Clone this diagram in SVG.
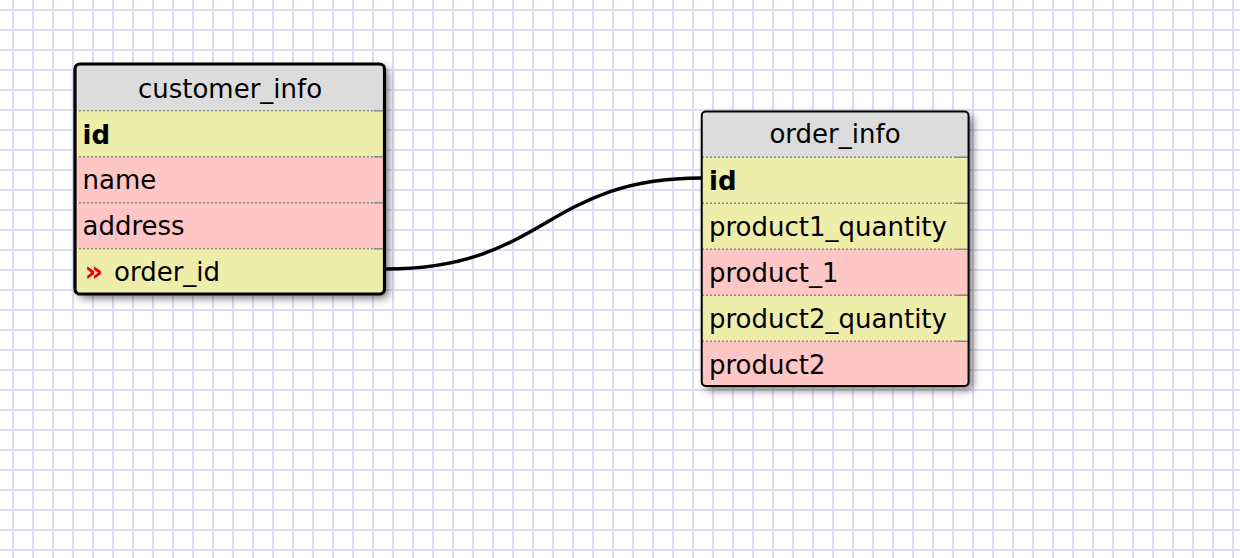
<svg xmlns="http://www.w3.org/2000/svg" width="1240" height="558" viewBox="0 0 1240 558">
<defs>
<pattern id="grid" x="13" y="10" width="20" height="20" patternUnits="userSpaceOnUse">
<rect x="-1" y="0" width="2" height="20" fill="#dcdcf5"/>
<rect x="19" y="0" width="2" height="20" fill="#dcdcf5"/>
<rect x="0" y="-1" width="20" height="2" fill="#dcdcf5"/>
<rect x="0" y="19" width="20" height="2" fill="#dcdcf5"/>
</pattern>
<filter id="shadow" x="-10%" y="-10%" width="130%" height="130%">
<feDropShadow dx="4" dy="4" stdDeviation="4" flood-color="#000" flood-opacity="0.55"/>
</filter>
<clipPath id="clipC"><rect x="75" y="64" width="309.5" height="230" rx="5"/></clipPath>
<clipPath id="clipO"><rect x="701.75" y="111.5" width="266.8" height="274.5" rx="4"/></clipPath>
</defs>
<style>
.hdr{fill:#dcdcdc}
.yel{fill:#eeeeaa}
.pnk{fill:#ffc6c6}
.sep{stroke:#888;stroke-width:1.5;stroke-dasharray:2 2}
.sepend{stroke:#888;stroke-width:1.5}
.t{font-family:"DejaVu Sans","Verdana",sans-serif;font-size:26px;fill:#000}
.title{text-anchor:middle}
.b{font-weight:bold}
.fk{font-family:"DejaVu Sans",sans-serif;font-size:29px;font-weight:bold;fill:#ee0000}
.conn{fill:none;stroke:#000;stroke-width:3.5}
</style>
<rect x="0" y="0" width="1240" height="558" fill="#ffffff"/>
<rect x="0" y="0" width="1240" height="558" fill="url(#grid)"/>

<g id="connectors">
<path class="conn" d="M 386 269 C 545 269, 545 178, 701 178"/>
</g>

<g id="customer_info">
<rect x="75" y="64" width="309.5" height="230" rx="5" fill="#eeeeaa" filter="url(#shadow)"/>
<g clip-path="url(#clipC)">
<rect class="hdr" x="74" y="63" width="312" height="47.7"/>
<rect class="yel" x="74" y="110.7" width="312" height="46"/>
<rect class="pnk" x="74" y="156.7" width="312" height="46"/>
<rect class="pnk" x="74" y="202.7" width="312" height="46"/>
<rect class="yel" x="74" y="248.7" width="312" height="47"/>
<line class="sep" x1="75" y1="110.7" x2="374" y2="110.7"/>
<line class="sepend" x1="374" y1="110.7" x2="385" y2="110.7"/>
<line class="sep" x1="75" y1="156.7" x2="374" y2="156.7"/>
<line class="sepend" x1="374" y1="156.7" x2="385" y2="156.7"/>
<line class="sep" x1="75" y1="202.7" x2="374" y2="202.7"/>
<line class="sepend" x1="374" y1="202.7" x2="385" y2="202.7"/>
<line class="sep" x1="75" y1="248.7" x2="374" y2="248.7"/>
<line class="sepend" x1="374" y1="248.7" x2="385" y2="248.7"/>
</g>
<rect x="75" y="64" width="309.5" height="230" rx="5" fill="none" stroke="#000" stroke-width="3.2"/>
<text class="t title" x="230" y="97.5">customer_info</text>
<text class="t b" x="82.5" y="143.5">id</text>
<text class="t" x="82.5" y="189">name</text>
<text class="t" x="82.5" y="235">address</text>
<text class="fk" x="84.5" y="280.5">»</text>
<text class="t" x="114" y="281">order_id</text>
</g>

<g id="order_info">
<rect x="701.75" y="111.5" width="266.8" height="274.5" rx="4" fill="#eeeeaa" filter="url(#shadow)"/>
<g clip-path="url(#clipO)">
<rect class="hdr" x="700" y="110" width="270" height="47.3"/>
<rect class="yel" x="700" y="157.3" width="270" height="46"/>
<rect class="yel" x="700" y="203.3" width="270" height="46"/>
<rect class="pnk" x="700" y="249.3" width="270" height="46"/>
<rect class="yel" x="700" y="295.3" width="270" height="46"/>
<rect class="pnk" x="700" y="341.3" width="270" height="46"/>
<line class="sep" x1="702" y1="157.3" x2="955" y2="157.3"/>
<line class="sepend" x1="955" y1="157.3" x2="968" y2="157.3"/>
<line class="sep" x1="702" y1="203.3" x2="955" y2="203.3"/>
<line class="sepend" x1="955" y1="203.3" x2="968" y2="203.3"/>
<line class="sep" x1="702" y1="249.3" x2="955" y2="249.3"/>
<line class="sepend" x1="955" y1="249.3" x2="968" y2="249.3"/>
<line class="sep" x1="702" y1="295.3" x2="955" y2="295.3"/>
<line class="sepend" x1="955" y1="295.3" x2="968" y2="295.3"/>
<line class="sep" x1="702" y1="341.3" x2="955" y2="341.3"/>
<line class="sepend" x1="955" y1="341.3" x2="968" y2="341.3"/>
</g>
<rect x="701.75" y="111.5" width="266.8" height="274.5" rx="4" fill="none" stroke="#000" stroke-width="2"/>
<text class="t title" x="835" y="143.3">order_info</text>
<text class="t b" x="709" y="190">id</text>
<text class="t" x="709" y="236">product1_quantity</text>
<text class="t" x="709" y="282">product_1</text>
<text class="t" x="709" y="328">product2_quantity</text>
<text class="t" x="709" y="374">product2</text>
</g>
</svg>
